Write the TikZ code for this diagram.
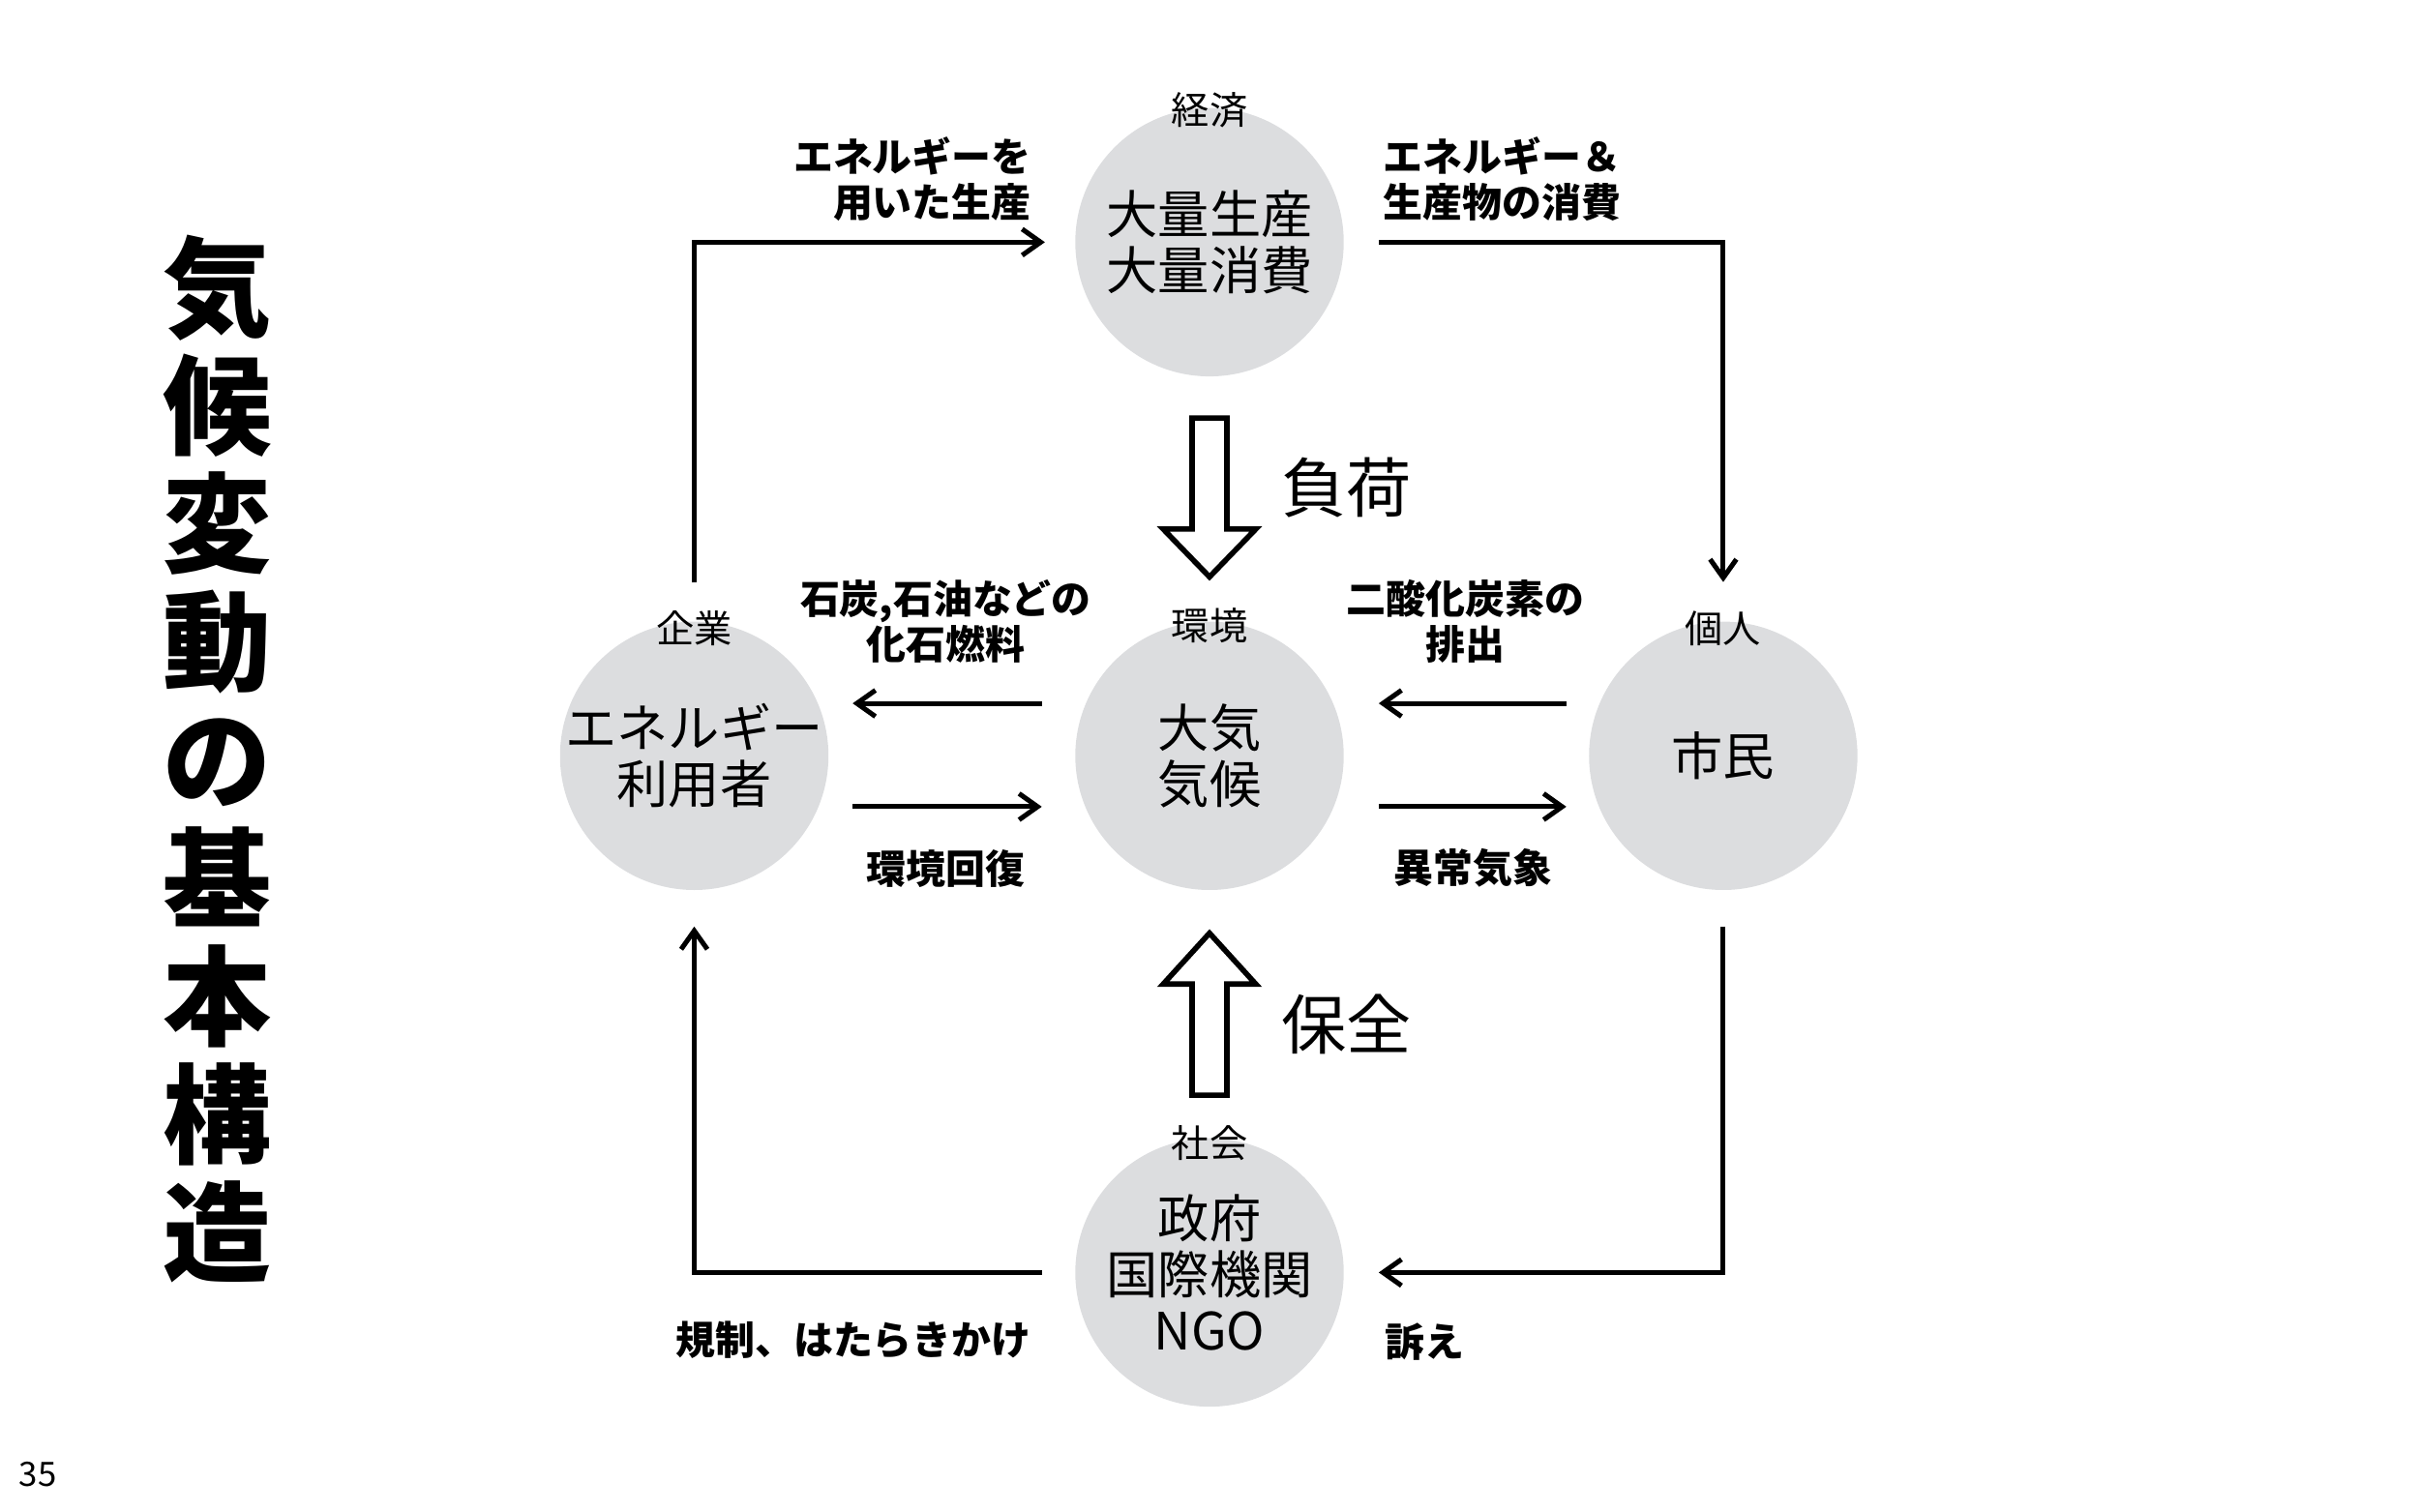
\documentclass[tikz,border=0pt]{standalone}
\usepackage{fontspec}
\setmainfont{Noto Sans CJK JP}
\usetikzlibrary{arrows.meta, positioning, calc}
\definecolor{sectorgray}{HTML}{DCDDDF}

\begin{document}
\begin{tikzpicture}[
    sector/.style={circle, fill=sectorgray, minimum size=1.74cm, inner sep=-0.2cm,
                   align=center, font=\fontsize{9.5}{10.4}\selectfont},
    sectortag/.style={font=\fontsize{7}{8}\selectfont, inner sep=0pt},
    flowtext/.style={font=\bfseries\fontsize{7.3}{8.3}\selectfont, inner sep=0pt},
    bigtext/.style={font=\fontsize{12}{14}\selectfont, inner sep=0pt},
    flow/.style={-{Straight Barb[length=1.2mm, width=1.7mm]}, line width=0.9pt},
    hollow/.style={line width=1pt, fill=white, line join=miter}
]
\useasboundingbox (0,0) rectangle (15.68,-9.80);

% Title
\node[font=\bfseries\fontsize{20}{21.8}\selectfont, align=center, inner sep=0pt] (title)
      at (1.41,-4.92) {気\\候\\変\\動\\の\\基\\本\\構\\造};
\node[font=\fontsize{6.2}{7}\selectfont, inner sep=0pt] (page) at (0.245,-9.56) {35};

% Sectors
\node[sector] (econ)  at (7.84,-1.57)  {大量生産\\大量消費};
\node[sector] (corp)  at (4.50,-4.90)  {エネルギー\\利用者};
\node[sector] (env)   at (7.84,-4.90)  {大気\\気候};
\node[sector] (indiv) at (11.17,-4.90) {市民};
\node[sector] (soc)   at (7.84,-8.25)  {政府\\国際機関\\NGO};

% Sector tags
\node[sectortag] (econ-tag)  at ([yshift=-0.02cm]econ.north)  {経済};
\node[sectortag] (corp-tag)  at ([yshift=-0.05cm]corp.north)  {企業};
\node[sectortag] (env-tag)   at ([yshift=-0.03cm]env.north)   {環境};
\node[sectortag] (indiv-tag) at ([yshift=-0.05cm]indiv.north) {個人};
\node[sectortag] (soc-tag)   at ([yshift=-0.04cm]soc.north)   {社会};

% Outer loop
\draw[flow, shorten <=0.18cm, shorten >=0.19cm] (corp-tag.north) |- (econ.west);
\draw[flow, shorten <=0.22cm, shorten >=0.18cm] (econ.east) -| (indiv-tag.north);
\draw[flow, shorten <=0.23cm, shorten >=0.22cm] (indiv.south) |- (soc.east);
\draw[flow, shorten <=0.21cm, shorten >=0.23cm] (soc.west) -| (corp.south);

% Inner arrows
\draw[flow, shorten <=0.21cm, shorten >=0.15cm] ([yshift=0.34cm]env.west) -- ([yshift=0.34cm]corp.east);
\draw[flow, shorten <=0.15cm, shorten >=0.21cm] ([yshift=-0.33cm]corp.east) -- ([yshift=-0.33cm]env.west);
\draw[flow, shorten <=0.14cm, shorten >=0.22cm] ([yshift=0.34cm]indiv.west) -- ([yshift=0.34cm]env.east);
\draw[flow, shorten <=0.22cm, shorten >=0.14cm] ([yshift=-0.33cm]env.east) -- ([yshift=-0.33cm]indiv.west);

% Flow labels
\node[flowtext, align=right, anchor=east] (produce) at (6.69,-1.16) {エネルギーを\\用いた生産};
\node[flowtext, align=left, anchor=west]  (consume) at (8.96,-1.16) {エネルギー＆\\生産物の消費};
\node[flowtext, align=center] (fossil)  at (6.13,-4.03) {石炭,石油などの\\化石燃料};
\node[flowtext, align=center] (emit)    at (9.50,-4.03) {二酸化炭素の\\排出};
\node[flowtext] (recover) at (6.13,-5.63) {環境回復};
\node[flowtext] (extreme) at (9.55,-5.63) {異常気象};
\node[flowtext, anchor=east] (regulate) at (6.69,-8.69) {規制、はたらきかけ};
\node[flowtext, anchor=west] (appeal)   at (8.97,-8.70) {訴え};

% Block arrows
\coordinate (load-top) at (7.84,-2.71);
\draw[hollow] (load-top) ++(-0.113,0) -- ++(0.226,0) -- ++(0,-0.72) -- ++(0.187,0)
      -- ++(-0.30,-0.31) -- ++(-0.30,0.31) -- ++(0.187,0) -- cycle;
\node[bigtext, anchor=west] (load) at (8.30,-3.16) {負荷};

\coordinate (keep-base) at (7.84,-7.10);
\draw[hollow] (keep-base) ++(-0.113,0) -- ++(0.226,0) -- ++(0,0.72) -- ++(0.187,0)
      -- ++(-0.30,0.33) -- ++(-0.30,-0.33) -- ++(0.187,0) -- cycle;
\node[bigtext, anchor=west] (keep) at (8.30,-6.64) {保全};

\end{tikzpicture}
\end{document}
